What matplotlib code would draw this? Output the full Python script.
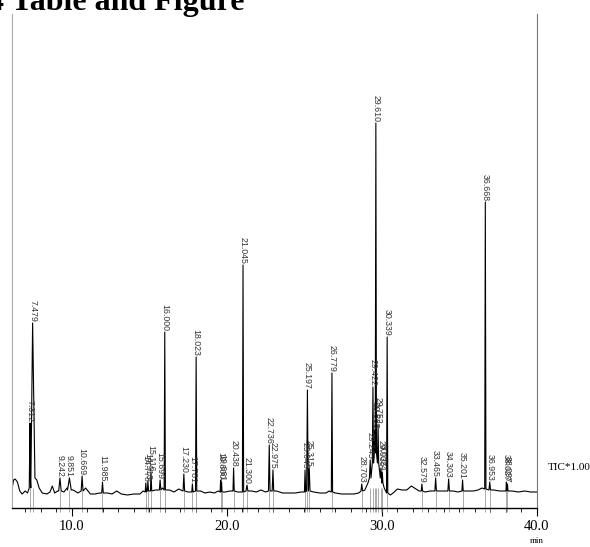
import matplotlib

matplotlib.use("Agg")
import matplotlib.pyplot as plt  # noqa: E402
from matplotlib.ticker import MultipleLocator  # noqa: E402

# baseline of the trace (min, intensity) between peaks
base_time = [6.15, 6.25, 6.35, 6.5, 6.65, 6.8, 7.0, 7.15, 7.75, 7.9, 8.1, 8.4,
             8.6, 8.75, 8.9, 9.1, 9.5, 9.7, 10.1, 10.4, 10.9, 11.2, 11.5, 11.8,
             12.3, 12.6, 12.9, 13.2, 13.6, 14.0, 14.4, 14.6, 15.4, 15.85, 16.3,
             16.6, 16.9, 17.5, 18.3, 18.6, 18.9, 19.2, 19.45, 19.9, 20.2, 20.7,
             21.6, 21.9, 22.2, 22.5, 23.2, 23.6, 24.0, 24.4, 24.8, 25.6, 26.0,
             26.4, 26.6, 27.0, 27.4, 27.8, 28.2, 28.5, 28.9, 29.1, 30.15, 30.55,
             30.8, 31.0, 31.3, 31.6, 31.9, 32.1, 32.4, 32.8, 33.1, 33.8, 34.0,
             34.6, 34.9, 35.5, 35.9, 36.2, 36.45, 37.2, 37.6, 38.4, 38.8, 39.2,
             39.6, 40.0]
base_level = [19, 28, 29, 26, 17, 14, 17, 15, 28, 20, 15, 14,
              16, 22, 15, 17, 16, 20, 18, 15, 20, 14, 14, 15,
              15, 14, 17, 14, 13, 14, 14, 17, 18, 20, 18,
              16, 19, 16, 17, 15, 16, 15, 17, 16, 17, 16,
              17, 16, 18, 16, 17, 15, 15, 15, 16, 16, 15,
              15, 17, 15, 14, 14, 14, 15, 18, 25, 20, 13,
              16, 19, 18, 18, 22, 20, 17, 16, 17, 17, 17,
              17, 16, 17, 17, 18, 20, 18, 17, 17, 16, 17,
              16, 16]

# labelled peaks: retention time, apex, half width, foot level
peak_rt = [7.312, 7.479, 9.242, 9.851, 10.669, 11.985, 14.778, 14.913, 15.116,
           15.699, 16.000, 17.230, 17.781, 18.023, 19.600, 19.661, 20.438,
           21.045, 21.300, 22.736, 22.975, 25.045, 25.197, 25.315, 26.779,
           28.703, 29.245, 29.422, 29.535, 29.610, 29.752, 29.935, 30.024,
           30.339, 32.579, 33.465, 34.303, 35.201, 36.668, 36.953, 38.027,
           38.097]
peak_height = [85, 185, 30, 30, 32, 26, 25, 27, 35,
               28, 176, 34, 24, 151, 28, 26, 40,
               243, 23, 63, 38, 38, 118, 40, 135,
               24, 48, 121, 78, 385, 83, 40, 36,
               171, 24, 30, 29, 28, 306, 26, 26,
               24]
peak_halfwidth = [0.05, 0.15, 0.08, 0.12, 0.06, 0.05, 0.04, 0.04, 0.04,
                  0.05, 0.04, 0.05, 0.04, 0.04, 0.03, 0.03, 0.04,
                  0.04, 0.06, 0.05, 0.05, 0.04, 0.05, 0.05, 0.04,
                  0.05, 0.05, 0.04, 0.03, 0.04, 0.04, 0.04, 0.04,
                  0.04, 0.04, 0.05, 0.05, 0.04, 0.04, 0.05, 0.03,
                  0.03]
peak_foot = [20, 30, 17, 18, 17, 15, 16, 17, 17,
             18, 18, 17, 16, 17, 16, 16, 17,
             16, 17, 17, 17, 16, 18, 17, 16,
             17, 30, 45, 55, 55, 45, 30, 25,
             15, 17, 17, 17, 17, 19, 18, 17,
             17]

# build the trace: baseline points outside peak windows + peak shapes
points = []
for t, v in zip(base_time, base_level):
    if all(abs(t - rt) > hw for rt, hw in zip(peak_rt, peak_halfwidth)):
        points.append((t, v))
for rt, h, hw, f in zip(peak_rt, peak_height, peak_halfwidth, peak_foot):
    points += [(rt - hw, f), (rt, h), (rt + hw, f)]
points.sort()
trace_t = [p[0] for p in points]
trace_v = [p[1] for p in points]

fig = plt.figure(figsize=(5.9, 5.47), dpi=100)
ax = fig.add_axes([12 / 590, 1 - 508 / 547, 525 / 590, 494 / 547])

ax.plot(trace_t, trace_v, color="black", lw=0.8)
# short peak-boundary marks crossing the axis
ax.vlines(peak_rt, -4, [min(f, 20) for f in peak_foot], color="#888888",
          lw=0.5, clip_on=False)
for rt, h in zip(peak_rt, peak_height):
    ax.text(rt, h + 1, f"{rt:.3f}", rotation=270, ha="center", va="bottom",
            fontsize=6.3, color="#333333", family="Liberation Sans")

ax.set_xlim(6.15, 40.0)
ax.set_ylim(0, 494)
ax.set_yticks([])
ax.set_xticks([10, 20, 30, 40], ["10.0", "20.0", "30.0", "40.0"])
ax.xaxis.set_minor_locator(MultipleLocator(1))
ax.tick_params(axis="x", which="major", length=6, width=0.8, pad=3,
               labelsize=10.5, labelfontfamily="Liberation Serif")
ax.tick_params(axis="x", which="minor", length=3, width=0.6)

ax.spines["top"].set_visible(False)
ax.spines["left"].set_color("#aaaaaa")
ax.spines["right"].set_color("#777777")
ax.spines["bottom"].set_linewidth(1.0)

fig.text(548 / 590, 1 - 467 / 547, "TIC*1.00", fontsize=8, va="center",
         family="Liberation Serif")
fig.text(537 / 590, 1 - 541 / 547, "min", fontsize=6.5, ha="center",
         va="center", family="Liberation Serif")
fig.text(-12 / 590, 1 - 10 / 547, "4 Table and Figure", fontsize=23,
         fontweight="bold", family="Liberation Serif", va="baseline")

fig.savefig("out.png", dpi=100)
plt.close(fig)
